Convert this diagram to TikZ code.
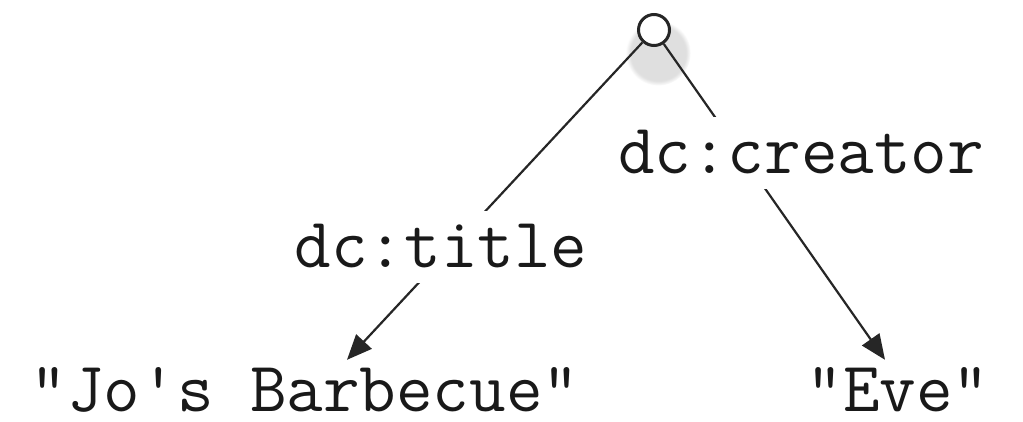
\documentclass[tikz,border=0pt]{standalone}
\usepackage{fontspec}
\usetikzlibrary{arrows.meta,shadows}
\begin{document}
\begin{tikzpicture}[x=1pt,y=-1pt,
  txt/.style={font=\ttfamily\fontsize{71}{78}\selectfont, text=black!90, inner sep=0pt, anchor=base,
    text height=40pt, text depth=0pt},
  lbl/.style={txt, fill=white, inner xsep=4pt, inner ysep=16pt},
  rootnode/.style={circle, draw=black!85, line width=3pt, fill=white, minimum size=31pt, inner sep=0pt,
    circular drop shadow={shadow xshift=2pt, shadow yshift=-11pt, shadow scale=2.1, opacity=0.25}},
  edge/.style={draw=black!85, line width=2.2pt, -{Triangle[length=25pt,width=21pt]}}
]
\useasboundingbox (0,0) rectangle (1023,421);
\node[rootnode] (root) at (654,30) {};
\node[txt] (jo) at (305,411) {"Jo's Barbecue"};
\node[txt] (eve) at (898,411) {"Eve"};
\draw[edge] (root) -- ([xshift=42pt,yshift=11pt]jo.north);
\draw[edge] (root) -- ([xshift=-13pt,yshift=11pt]eve.north);
\node[lbl] (title) at (441,267) {dc:title};
\node[lbl] (creator) at (801,173) {dc:creator};
\end{tikzpicture}
\end{document}
